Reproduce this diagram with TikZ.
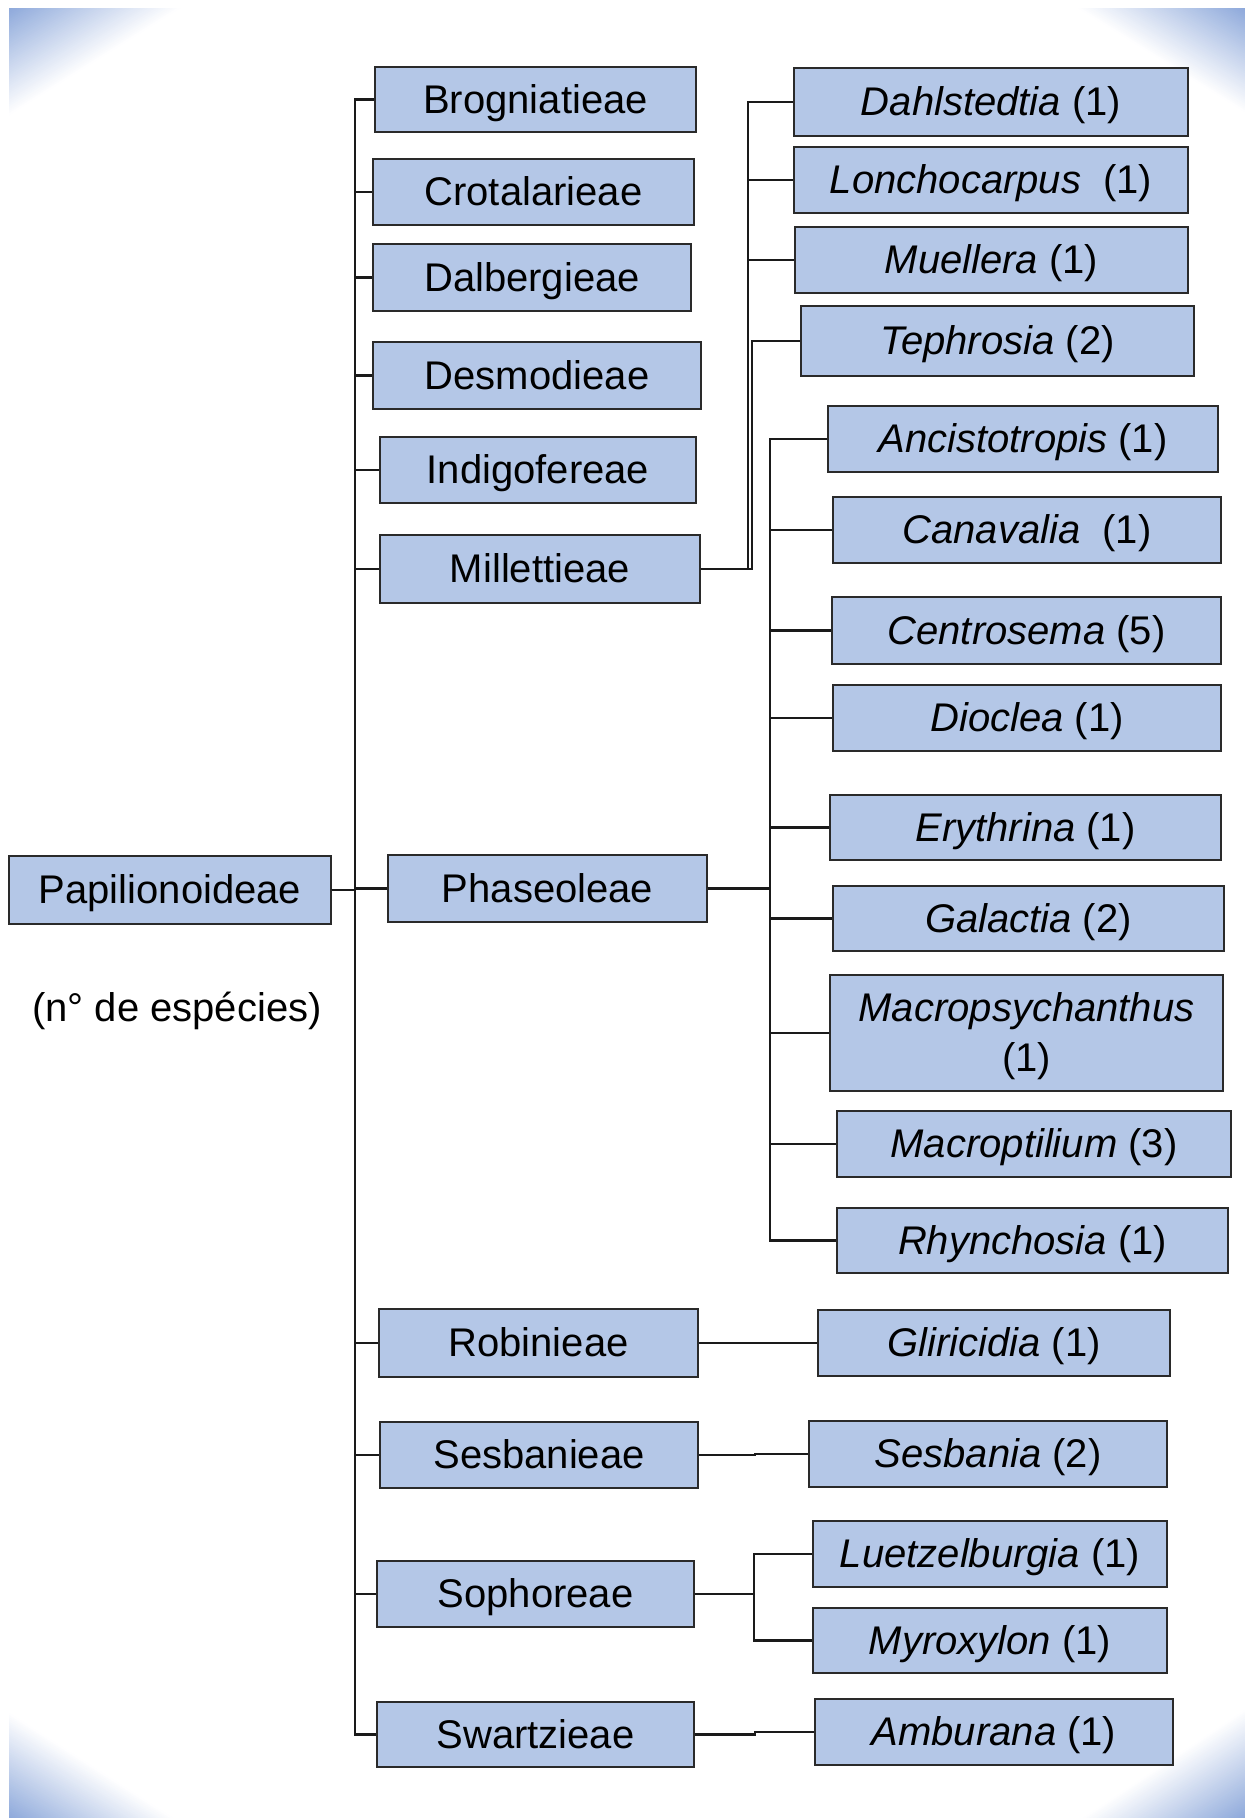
\documentclass[tikz,border=0pt]{standalone}
\usepackage{fontspec}
\setmainfont{Liberation Sans}
\definecolor{boxblue}{HTML}{B4C7E7}
\definecolor{boxline}{HTML}{2A2A2A}
\definecolor{linkdark}{HTML}{1A1A1A}
\definecolor{cornerblue}{HTML}{8EA9DB}

% Corner wash: nested triangles from the corner outwards, blue fading to white.
% #1,#2 corner; #3 x where the fade meets the horizontal edge; #4 y where it meets the vertical edge
\newcommand\cornerfade[4]{%
  \foreach \k in {48,47,...,1}{%
    \pgfmathsetmacro\fs{\k/48}%
    \pgfmathsetmacro\fm{100*(1-(\k-0.5)/48)}%
    \fill[cornerblue!\fm!white] (#1,#2) -- ({#1+\fs*(#3-#1)},#2) -- (#1,{#2+\fs*(#4-#2)}) -- cycle;
  }%
}
% lower a line of text without changing its box
\newcommand\lowered[1]{\raisebox{-3pt}[\height][\depth]{#1}}

\begin{document}
\begin{tikzpicture}[x=1pt,y=-1pt,
  taxon/.style={draw=boxline, fill=boxblue, line width=1.6pt, inner sep=0pt,
    align=center, font=\fontsize{40}{50}\selectfont,
    text height=31pt, text depth=4pt},
  twoline/.style={text height=, text depth=},
  sz/.style 2 args={minimum width=#1pt, minimum height=#2pt},
  link/.style={draw=linkdark, line width=2.1pt}]

\useasboundingbox (0,0) rectangle (1245,1818);
\fill[white] (0,0) rectangle (1245,1818);

% corner washes
\cornerfade{9}{8}{180}{115}
\cornerfade{1245}{8}{1078}{112}
\cornerfade{9}{1818}{173}{1713}
\cornerfade{1245}{1818}{1083}{1710}

% subfamily
\node[taxon, sz={322}{68}] (pap) at (170,890) {Papilionoideae};
\node[font=\fontsize{40}{50}\selectfont, inner sep=0pt, text height=31pt, text depth=4pt] (nsp) at (177,1008) {(n° de espécies)};

% tribes
\node[taxon, sz={321}{65}] (brog) at (535.5,99.5) {Brogniatieae};
\node[taxon, sz={321}{66}] (crot) at (533.5,192) {Crotalarieae};
\node[taxon, sz={318}{67}] (dalb) at (532,277.5) {Dalbergieae};
\node[taxon, sz={328}{67}] (desm) at (537,375.5) {Desmodieae};
\node[taxon, sz={316}{66}] (indi) at (538,470) {Indigofereae};
\node[taxon, sz={320}{68}] (mill) at (540,569) {Millettieae};
\node[taxon, sz={319}{67}] (phas) at (547.5,888.5) {Phaseoleae};
\node[taxon, sz={319}{68}] (robi) at (538.5,1343) {Robinieae};
\node[taxon, sz={318}{66}] (sesb) at (539,1455) {Sesbanieae};
\node[taxon, sz={317}{66}] (soph) at (535.5,1594) {Sophoreae};
\node[taxon, sz={317}{65}] (swar) at (535.5,1734.5) {Swartzieae};

% genera
\node[taxon, sz={394}{68}] (dahl) at (991,102) {\textit{Dahlstedtia} (1)};
\node[taxon, sz={394}{66}] (lonc) at (991,180) {\textit{Lonchocarpus}\ \ (1)};
\node[taxon, sz={393}{66}] (muel) at (991.5,260) {\textit{Muellera} (1)};
\node[taxon, sz={393}{70}] (teph) at (997.5,341) {\textit{Tephrosia} (2)};
\node[taxon, sz={390}{66}] (anci) at (1023,439) {\textit{Ancistotropis} (1)};
\node[taxon, sz={388}{66}] (cana) at (1027,530) {\textit{Canavalia}\ \ (1)};
\node[taxon, sz={389}{67}] (cent) at (1026.5,630.5) {\textit{Centrosema} (5)};
\node[taxon, sz={388}{66}] (dioc) at (1027,718) {\textit{Dioclea} (1)};
\node[taxon, sz={391}{65}] (eryt) at (1025.5,827.5) {\textit{Erythrina} (1)};
\node[taxon, sz={391}{65}] (gala) at (1028.5,918.5) {\textit{Galactia} (2)};
\node[taxon, twoline, sz={393}{116}] (mcps) at (1026.5,1033)
  {\lowered{\textit{Macropsychanthus}}\\\lowered{(1)}};
\node[taxon, sz={394}{66}] (mcpt) at (1034,1144) {\textit{Macroptilium} (3)};
\node[taxon, sz={391}{65}] (rhyn) at (1032.5,1240.5) {\textit{Rhynchosia} (1)};
\node[taxon, sz={352}{66}] (glir) at (994,1343) {\textit{Gliricidia} (1)};
\node[taxon, sz={358}{66}] (sesn) at (988,1454) {\textit{Sesbania} (2)};
\node[taxon, sz={354}{66}] (luet) at (990,1554) {\textit{Luetzelburgia} (1)};
\node[taxon, sz={354}{65}] (myro) at (990,1640.5) {\textit{Myroxylon} (1)};
\node[taxon, sz={358}{66}] (ambu) at (994,1732) {\textit{Amburana} (1)};

% bracket columns
\coordinate (mx) at (355,0);
\coordinate (mb) at (748,0);
\coordinate (mb2) at (752,0);
\coordinate (pb) at (770,0);
\coordinate (rb) at (757,0);
\coordinate (sb) at (755,0);
\coordinate (ob) at (754,0);
\coordinate (wb) at (755,0);

% subfamily to tribes
\foreach \c in {brog,crot,dalb,desm,indi,mill,phas,robi,sesb,soph,swar}
  \draw[link] (pap.east) -- (pap.east -| mx) |- (\c.west);

% Millettieae
\foreach \c in {dahl,lonc,muel}
  \draw[link] (mill.east) -- (mill.east -| mb) |- (\c.west);
\draw[link] (mill.east) -- (mill.east -| mb2) |- (teph.west);

% Phaseoleae
\foreach \c in {anci,cana,cent,dioc,eryt,gala,mcps,mcpt,rhyn}
  \draw[link] (phas.east) -- (phas.east -| pb) |- (\c.west);

% remaining tribes
\draw[link] (robi.east) -- (robi.east -| rb) |- (glir.west);
\draw[link] (sesb.east) -- (sesb.east -| sb) |- (sesn.west);
\foreach \c in {luet,myro}
  \draw[link] (soph.east) -- (soph.east -| ob) |- (\c.west);
\draw[link] (swar.east) -- (swar.east -| wb) |- (ambu.west);

\end{tikzpicture}
\end{document}
